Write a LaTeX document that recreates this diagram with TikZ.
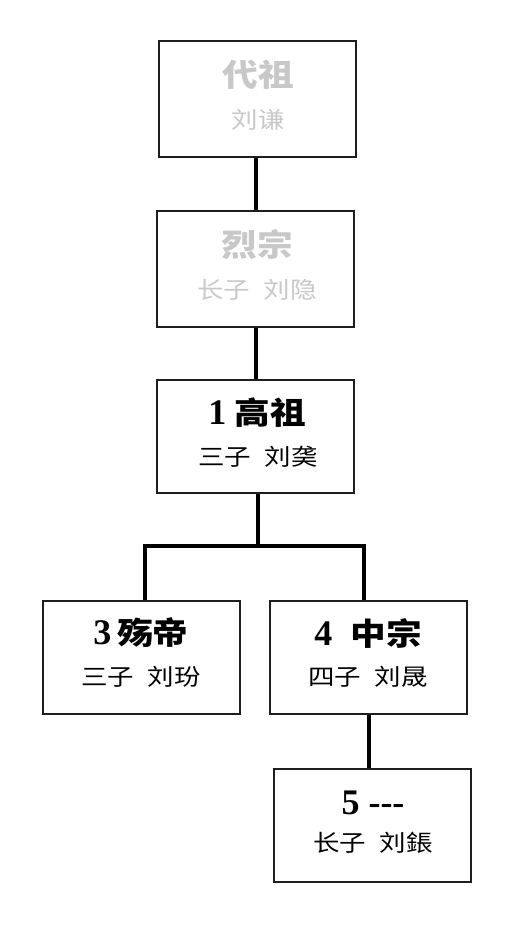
\documentclass[tikz,border=0pt]{standalone}
\usepackage{fontspec}
\newfontfamily\cjk{Noto Sans CJK SC}[FakeStretch=1.15]
\newfontfamily\tnr{Liberation Serif}
\definecolor{faded}{RGB}{200,200,200}
\definecolor{edge}{RGB}{30,30,30}
\begin{document}
\begin{tikzpicture}[x=1pt,y=-1pt,
  box/.style={draw=edge,line width=2pt,rectangle,minimum width=197pt,minimum height=116pt,inner sep=0pt},
  conn/.style={line width=4pt,black},
  ttl/.style={inner sep=0pt,font=\fontsize{31}{33}\selectfont},
  sub/.style={inner sep=0pt,font=\cjk\fontsize{23}{25}\selectfont}]
\useasboundingbox (0,0) rectangle (510,940);
% boxes
\node[box] (b1) at (257.5,98.5) {};
\node[box] (b2) at (255.5,269) {};
\node[box,minimum height=113pt] (b3) at (255.5,436.5) {};
\node[box,minimum height=113pt] (b4) at (141.5,657.5) {};
\node[box,minimum height=113pt] (b5) at (368.5,657.5) {};
\node[box,minimum height=113pt] (b6) at (372.5,825.5) {};
% texts
\node[ttl,text=faded] (t1) at (258,75) {\cjk\bfseries 代祖};
\node[sub,text=faded] (s1) at (258,120) {刘谦};
\node[ttl,text=faded] (t2) at (257,245) {\cjk\bfseries 烈宗};
\node[sub,text=faded] (s2) at (257,290) {长子\hspace{14pt}刘隐};
\node[ttl] (t3) at (257,413) {{\tnr\bfseries\fontsize{36}{38}\selectfont 1}\hspace{8pt}{\cjk\bfseries 高祖}};
\node[sub] (s3) at (258,457) {三子\hspace{14pt}刘䶮};
\node[ttl] (t4) at (141,633) {{\tnr\bfseries\fontsize{36}{38}\selectfont 3}\hspace{6pt}{\cjk\bfseries 殇帝}};
\node[sub] (s4) at (141,677) {三子\hspace{14pt}刘玢};
\node[ttl] (t5) at (368,633) {{\tnr\bfseries\fontsize{36}{38}\selectfont 4}\hspace{18pt}{\cjk\bfseries 中宗}};
\node[sub] (s5) at (368,677) {四子\hspace{14pt}刘晟};
\node[ttl] (t6) at (373,803) {\tnr\bfseries\fontsize{36}{38}\selectfont 5 ---};
\node[sub] (s6) at (373,843) {长子\hspace{14pt}刘鋹};
% connectors
\coordinate (j) at (258,546);
\draw[conn] (b1.south -| 256,0) -- (b2.north -| 256,0);
\draw[conn] (b2.south) -- (b3.north);
\draw[conn] (b3.south -| j) -- (j);
\draw[conn] (b4.north -| 145,0) |- (j) -| (b5.north -| 364,0);
\draw[conn] (b5.south) -- (b5.south |- b6.north);
\end{tikzpicture}
\end{document}
